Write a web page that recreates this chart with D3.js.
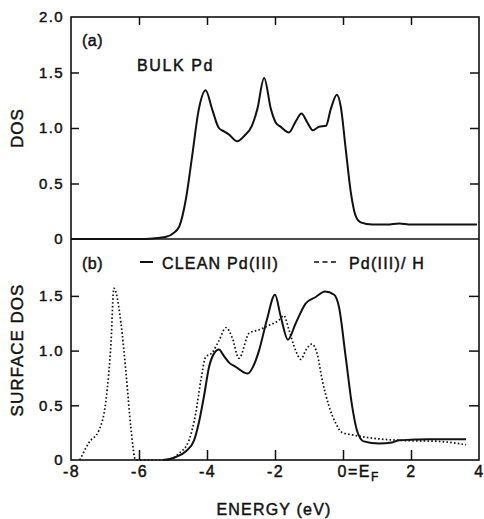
<!DOCTYPE html>
<html><head><meta charset="utf-8">
<script src="https://cdn.jsdelivr.net/npm/d3@7"></script>
<style>
body{margin:0;background:#fff}
text{font-family:"Liberation Sans",Arial,sans-serif;fill:#111;stroke:#111;stroke-width:0.45px}
</style>
</head><body><svg id="c" width="484" height="519"></svg>
<script>
// ---- data ----
const energyBulk=[-8,-6,-5.6,-5.2,-5.0,-4.82,-4.62,-4.44,-4.24,-4.04,-3.85,-3.65,-3.5,-3.35,-3.11,-2.9,-2.68,-2.52,-2.32,-2.12,-1.98,-1.83,-1.59,-1.39,-1.22,-1.05,-0.89,-0.71,-0.5,-0.36,-0.18,-0.07,0.08,0.23,0.37,0.52,0.86,1.3,1.65,2.0,3.0,3.94];
const dosBulk=[0,0,0.005,0.02,0.05,0.11,0.36,0.74,1.17,1.34,1.17,1.0,0.97,0.94,0.88,0.93,1.02,1.17,1.45,1.17,1.05,1.01,0.96,1.06,1.13,1.05,0.98,1.01,1.02,1.17,1.30,1.2,0.81,0.42,0.21,0.15,0.13,0.13,0.14,0.13,0.13,0.13];

const energyClean=[-5.3,-5.1,-4.9,-4.62,-4.38,-4.24,-4.09,-3.94,-3.8,-3.65,-3.5,-3.35,-3.15,-2.91,-2.8,-2.65,-2.47,-2.24,-2.0,-1.83,-1.62,-1.39,-1.1,-0.8,-0.53,-0.26,-0.12,0.08,0.27,0.41,0.61,1.06,1.44,1.65,2.0,2.5,3.0,3.62];
const dosClean=[0,0.01,0.03,0.08,0.18,0.34,0.58,0.85,0.97,1.01,0.95,0.89,0.85,0.8,0.79,0.85,1.0,1.28,1.51,1.31,1.1,1.25,1.43,1.49,1.54,1.51,1.4,0.94,0.49,0.27,0.17,0.15,0.16,0.18,0.185,0.19,0.19,0.19];

const energyH=[-7.74,-7.47,-7.18,-6.97,-6.82,-6.74,-6.53,-6.38,-6.24,-6.1,-5.2,-4.82,-4.53,-4.33,-4.18,-4.04,-3.85,-3.65,-3.44,-3.26,-3.06,-2.76,-2.47,-2.18,-1.88,-1.74,-1.59,-1.39,-1.24,-1.1,-0.92,-0.76,-0.61,-0.41,-0.22,-0.02,0.27,0.86,1.65,2.82,3.62];
const dosH=[0,0.16,0.27,0.55,1.09,1.57,1.25,0.79,0.30,0,0,0.06,0.18,0.43,0.73,0.94,0.98,1.09,1.21,1.12,0.93,1.16,1.19,1.23,1.28,1.32,1.19,1.0,0.92,1.0,1.06,0.97,0.73,0.49,0.34,0.25,0.23,0.2,0.18,0.17,0.14];

const xTicks=[-8,-6,-4,-2,0,2,4];
const xTickLabels=["-8","-6","-4","-2","0=E","2","4"];
const yTicksTop=[0,0.5,1,1.5,2];
const yTickLabelsTop=["0","0.5","1.0","1.5","2.0"];
const yTicksBottom=[0,0.5,1,1.5];
const yTickLabelsBottom=["0","0.5","1.0","1.5"];
const innerTicks=[0.5,1,1.5];
const innerXTicks=[-6,-4,-2,0,2];

// ---- scales ----
const svg=d3.select("#c");
const x=d3.scaleLinear().domain([-8,4]).range([71,479]);
const yTop=d3.scaleLinear().domain([0,2]).range([239,17]);
const yBot=d3.scaleLinear().domain([0,2.02]).range([460,239]);

// ---- axes ----
function styleAxis(g){g.select(".domain").remove();g.selectAll("line").attr("stroke","#111").attr("stroke-width",1.5);}
// top panel
svg.append("g").attr("transform","translate(71,0)")
  .call(d3.axisLeft(yTop).tickValues(innerTicks).tickSize(-8).tickFormat(""))
  .call(styleAxis);
svg.append("g").attr("transform","translate(71,0)")
  .call(d3.axisLeft(yTop).tickValues(yTicksTop).tickSize(0).tickPadding(7).tickFormat((d,i)=>yTickLabelsTop[i]))
  .call(styleAxis).selectAll("text").attr("font-size",15).attr("letter-spacing",1.4).attr("fill","#111");
svg.append("g").attr("transform","translate(479,0)")
  .call(d3.axisRight(yTop).tickValues(innerTicks).tickSize(-9).tickFormat(""))
  .call(styleAxis);
svg.append("g").attr("transform","translate(0,17)")
  .call(d3.axisTop(x).tickValues(innerXTicks).tickSize(-8).tickFormat(""))
  .call(styleAxis);
// bottom panel
svg.append("g").attr("transform","translate(71,0)")
  .call(d3.axisLeft(yBot).tickValues(innerTicks).tickSize(-8).tickFormat(""))
  .call(styleAxis);
svg.append("g").attr("transform","translate(71,0)")
  .call(d3.axisLeft(yBot).tickValues(yTicksBottom).tickSize(0).tickPadding(7).tickFormat((d,i)=>yTickLabelsBottom[i]))
  .call(styleAxis).selectAll("text").attr("font-size",15).attr("letter-spacing",1.4).attr("fill","#111");
svg.append("g").attr("transform","translate(479,0)")
  .call(d3.axisRight(yBot).tickValues(innerTicks).tickSize(-10).tickFormat(""))
  .call(styleAxis);
svg.append("g").attr("transform","translate(0,460)")
  .call(d3.axisBottom(x).tickValues(innerXTicks).tickSize(-10).tickFormat(""))
  .call(styleAxis);
const xl=svg.append("g").attr("transform","translate(0,460)")
  .call(d3.axisBottom(x).tickValues(xTicks).tickSize(0).tickPadding(6).tickFormat((d,i)=>xTickLabels[i]))
  .call(styleAxis);
xl.selectAll("text").attr("font-size",16).attr("letter-spacing",1.5).attr("fill","#111");
xl.selectAll("text").filter(d=>d===0).attr("text-anchor","start").attr("dx",-6)
  .append("tspan").text("F").attr("font-size",12).attr("dy",4);

// ---- frames ----
svg.append("rect").attr("x",x(-8)).attr("y",yTop(2)).attr("width",x(4)-x(-8)).attr("height",yBot(0)-yTop(2))
  .attr("fill","none").attr("stroke","#111").attr("stroke-width",1.6);
svg.append("line").attr("x1",x(-8)).attr("x2",x(4)).attr("y1",yTop(0)).attr("y2",yTop(0))
  .attr("stroke","#111").attr("stroke-width",1.6);

// ---- lines ----
const lineTop=d3.line().x(d=>x(d[0])).y(d=>yTop(d[1])).curve(d3.curveMonotoneX);
const lineBot=d3.line().x(d=>x(d[0])).y(d=>yBot(d[1])).curve(d3.curveMonotoneX);
svg.append("path").attr("d",lineTop(d3.zip(energyBulk,dosBulk)))
  .attr("fill","none").attr("stroke","#111").attr("stroke-width",2);
svg.append("path").attr("d",lineBot(d3.zip(energyH,dosH)))
  .attr("fill","none").attr("stroke","#111").attr("stroke-width",1.7).attr("stroke-dasharray","1.6,2.2");
svg.append("path").attr("d",lineBot(d3.zip(energyClean,dosClean)))
  .attr("fill","none").attr("stroke","#111").attr("stroke-width",2);

// ---- texts ----
const txt=(s,xx,yy,size,ls)=>svg.append("text").attr("x",xx).attr("y",yy).attr("font-size",size).attr("letter-spacing",ls||0).text(s);
txt("(a)",82,46,16,0.5);
txt("BULK  Pd",137,71,16,1.6);
txt("(b)",82,269,16,0.5);
svg.append("line").attr("x1",140).attr("x2",153).attr("y1",262).attr("y2",262).attr("stroke","#111").attr("stroke-width",2);
txt("CLEAN Pd(III)",162,269,16,1.2);
svg.append("line").attr("x1",314).attr("x2",338).attr("y1",262).attr("y2",262).attr("stroke","#111").attr("stroke-width",1.6).attr("stroke-dasharray","5,3.5");
txt("Pd(III)/ H",349,269,16,1.2);
txt("ENERGY  (eV)",274,515,16,1.2).attr("text-anchor","middle");
svg.append("text").attr("transform","translate(23,128) rotate(-90)").attr("text-anchor","middle")
  .attr("font-size",17).attr("letter-spacing",1).text("DOS");
svg.append("text").attr("transform","translate(23,350) rotate(-90)").attr("text-anchor","middle")
  .attr("font-size",17).attr("letter-spacing",1).text("SURFACE DOS");
</script></body></html>
